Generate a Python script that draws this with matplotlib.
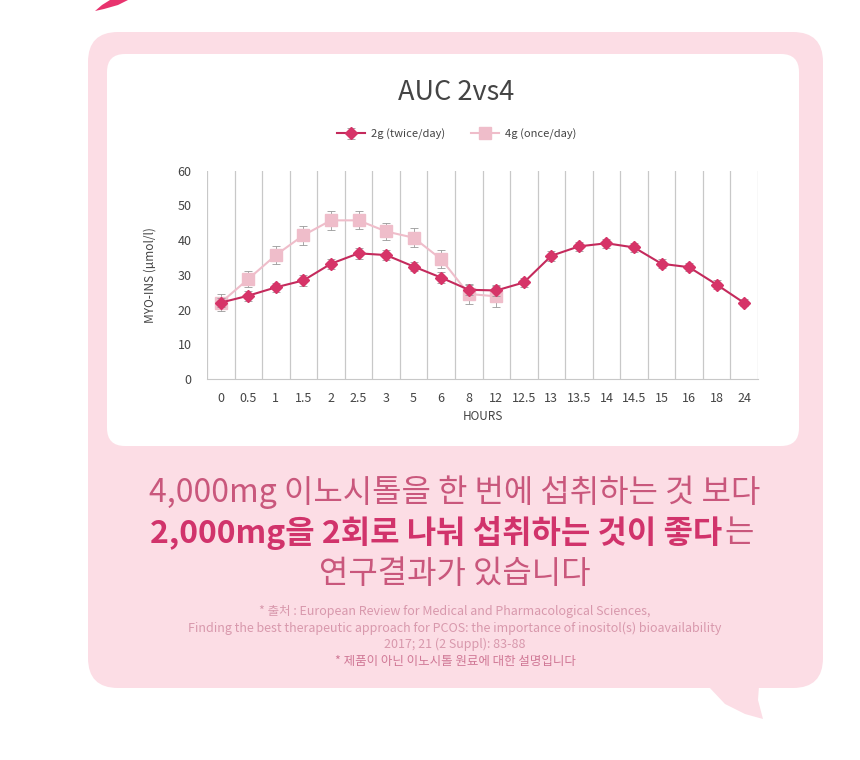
import matplotlib
matplotlib.use('Agg')
import matplotlib.pyplot as plt
from matplotlib.patches import FancyBboxPatch, Polygon
import numpy as np

plt.rcParams['font.family'] = ['Noto Sans CJK KR', 'DejaVu Sans']

# data
hours = ['0', '0.5', '1', '1.5', '2', '2.5', '3', '5', '6', '8', '12', '12.5',
         '13', '13.5', '14', '14.5', '15', '16', '18', '24']
twice_day = [22.0, 24.0, 26.4, 28.4, 33.2, 36.2, 35.7, 32.4, 29.2, 25.7, 25.5, 27.8,
             35.5, 38.2, 39.1, 37.9, 33.2, 32.2, 27.2, 21.9]
twice_err = [1.2, 1.4, 1.3, 1.5, 1.4, 1.5, 1.4, 1.3, 1.5, 1.4, 1.6, 1.2,
             1.5, 1.4, 1.3, 1.2, 1.3, 1.2, 1.3, 1.0]
once_day = [22.0, 28.8, 35.7, 41.4, 45.7, 45.7, 42.5, 40.7, 34.5, 24.5, 23.8]
once_err = [2.5, 2.2, 2.6, 2.8, 2.7, 2.6, 2.4, 2.7, 2.6, 3.0, 3.0]

crimson = '#c42a5c'
rose = '#efbdca'
bg_pink = '#fcdde5'

fig = plt.figure(figsize=(8.6, 7.6), dpi=100)
fig.patch.set_facecolor('white')

# background in pixel coordinates
bg = fig.add_axes([0, 0, 1, 1])
bg.set_xlim(0, 860)
bg.set_ylim(760, 0)
bg.axis('off')

bg.add_patch(Polygon([(95, 11), (102, 5), (110, 0), (128, 0), (118, 5), (104, 9)],
                     closed=True, color='#e8336e', lw=0))
bg.add_patch(FancyBboxPatch((88, 32), 735, 656, boxstyle='round,pad=0,rounding_size=30',
                            fc=bg_pink, ec='none'))
bg.add_patch(Polygon([(708, 686), (759, 686), (758, 700), (763, 719), (745, 714),
                      (725, 704)], closed=True, color=bg_pink, lw=0))
bg.add_patch(FancyBboxPatch((107, 54), 692, 392, boxstyle='round,pad=0,rounding_size=18',
                            fc='white', ec='none'))

bg.text(456, 92, 'AUC 2vs4', ha='center', va='center', fontsize=19.5, color='#444444')
bg.text(483, 417, 'HOURS', ha='center', va='center', fontsize=8.5, color='#444444')
bg.text(150, 275, 'MYO-INS (µmol/l)', ha='center', va='center', rotation=90,
        fontsize=8.5, color='#444444')

txt = '#c9577c'
big = 23
bg.text(455, 492, '4,000mg 이노시톨을 한 번에 섭취하는 것 보다', ha='center', va='center',
        fontsize=big, color=txt, fontweight='light')
t_bold = bg.text(0, 533, '2,000mg을 2회로 나눠 섭취하는 것이 좋다', ha='left', va='center',
                 fontsize=big, color='#d1336b', fontweight='bold')
t_end = bg.text(0, 533, '는', ha='left', va='center',
                fontsize=big, color=txt, fontweight='light')
bg.text(455, 574, '연구결과가 있습니다', ha='center', va='center',
        fontsize=big, color=txt, fontweight='light')

# put the bold part and the trailing word on one centred line
r = fig.canvas.get_renderer()
w1 = t_bold.get_window_extent(r).width
w2 = t_end.get_window_extent(r).width
x0 = 452 - (w1 + w2 + 2) / 2
t_bold.set_x(x0)
t_end.set_x(x0 + w1 + 2)

foot = '#d898ac'
fs = 9
bg.text(455, 611, '* 출처 : European Review for Medical and Pharmacological Sciences,',
        ha='center', va='center', fontsize=fs, color=foot, fontweight='light')
bg.text(455, 628, 'Finding the best therapeutic approach for PCOS: the importance of inositol(s) bioavailability',
        ha='center', va='center', fontsize=fs, color=foot, fontweight='light')
bg.text(455, 644, '2017; 21 (2 Suppl): 83-88', ha='center', va='center', fontsize=fs,
        color=foot, fontweight='light')
bg.text(455, 662, '* 제품이 아닌 이노시톨 원료에 대한 설명입니다', ha='center', va='center',
        fontsize=fs, color='#d07896', fontweight='light')

# chart
ax = fig.add_axes([207 / 860, 1 - 379 / 760, 551 / 860, (379 - 170.7) / 760])
ax.set_facecolor('white')
x = np.arange(len(hours))
xo = np.arange(len(once_day))

ax.errorbar(xo, once_day, yerr=once_err, color=rose, marker='s', markersize=8,
            lw=1.5, ecolor='#999999', elinewidth=0.6, capsize=3, capthick=0.6,
            label='4g (once/day)', zorder=3)
ax.errorbar(x, twice_day, yerr=twice_err, color=crimson, marker='D', markersize=6.5,
            markerfacecolor='#d63468', markeredgecolor='#d63468',
            lw=1.5, ecolor='#999999', elinewidth=0.6, capsize=3, capthick=0.6,
            label='2g (twice/day)', zorder=4)

ax.set_xlim(-0.5, len(hours) - 0.5)
ax.set_ylim(0, 60)
ax.set_yticks(range(0, 61, 10))
ax.set_xticks(x)
ax.set_xticklabels(hours)
ax.set_xticks(np.arange(-0.5, len(hours), 1), minor=True)
ax.grid(True, axis='x', which='minor', color='#c8c8c8', lw=0.9)
ax.tick_params(axis='both', which='both', length=0, labelsize=9, colors='#444444')
ax.tick_params(axis='x', pad=9)
ax.tick_params(axis='y', pad=11)
for s in ['top', 'right', 'left']:
    ax.spines[s].set_visible(False)
ax.spines['bottom'].set_color('#c8c8c8')

h, l = ax.get_legend_handles_labels()
leg = ax.legend(h[::-1], l[::-1], loc='lower center', bbox_to_anchor=(0.453, 1.1), ncol=2,
                frameon=False, fontsize=8, handlelength=2.5, columnspacing=2.4,
                handletextpad=0.5)
for t in leg.get_texts():
    t.set_color('#444444')

fig.savefig('out.png', dpi=100, facecolor='white')
